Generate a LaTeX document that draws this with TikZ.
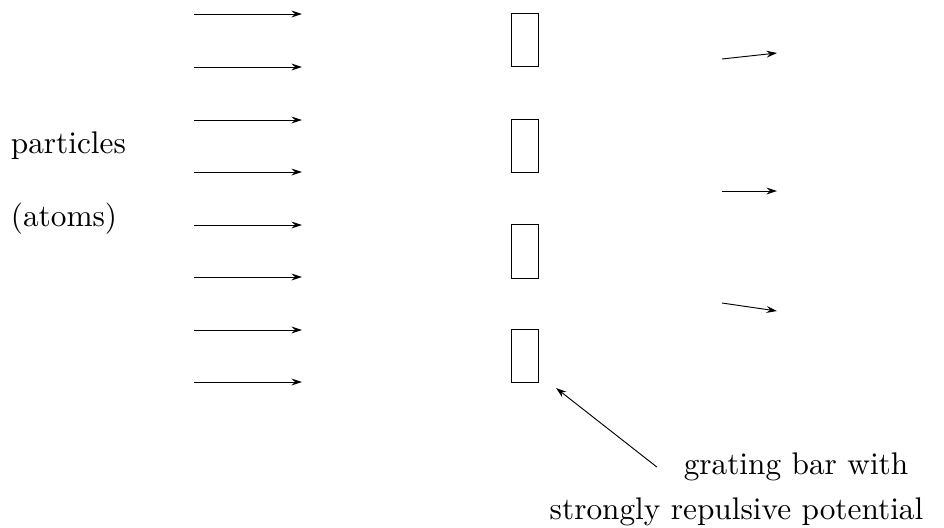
\documentclass[tikz,border=0pt]{standalone}
\usepackage{amsmath}
\usepackage{tikz}
\usetikzlibrary{arrows.meta}

\begin{document}
\begin{tikzpicture}[x=0.3195pt,y=-0.3195pt,line width=0.3pt,
    >={Stealth[length=3.4pt,width=2.2pt,inset=1.2pt]},
    barbox/.style={draw,rectangle,inner sep=0pt,minimum width=8.6pt,
      minimum height=17pt}]
          \useasboundingbox (0,0) rectangle (944,527);
          %\draw[very thin,lightgray] (0,0) grid[step=50] (944,527);
          % incoming beam
          \foreach \i/\y in {1/14,2/67,3/120,4/172,5/225,6/277,7/330,8/382}{
            \coordinate (in\i) at (194,\y);
            \coordinate (mid\i) at (302,\y);
            \draw[->] (in\i)--(mid\i);
          }
          \node[anchor=west] (part) at (0,146) {particles};
          \node[anchor=west] (atoms) at (0,219) {(atoms)};
          % grating bars
          \node[barbox] (bar1) at (524.5,40) {};
          \node[barbox] (bar2) at (524.5,146) {};
          \node[barbox] (bar3) at (524.5,251.5) {};
          \node[barbox] (bar4) at (524.5,356) {};
          % outgoing
          \coordinate (outa) at (722,59);
          \coordinate (outA) at (777,53);
          \coordinate (outb) at (722,191);
          \coordinate (outB) at (777,191);
          \coordinate (outc) at (722,303);
          \coordinate (outC) at (777,311);
          \draw[->] (outa)--(outA);
          \draw[->] (outb)--(outB);
          \draw[->] (outc)--(outC);
          % label
          \node (grat) at (796,467) {grating bar with};
          \node (pot) at (736.5,512) {strongly repulsive potential};
          \coordinate (tip) at (556,388);
          \draw[->] (grat.west)++(-16,0) coordinate (tail) (tail)--(tip);
\end{tikzpicture}
\end{document}
